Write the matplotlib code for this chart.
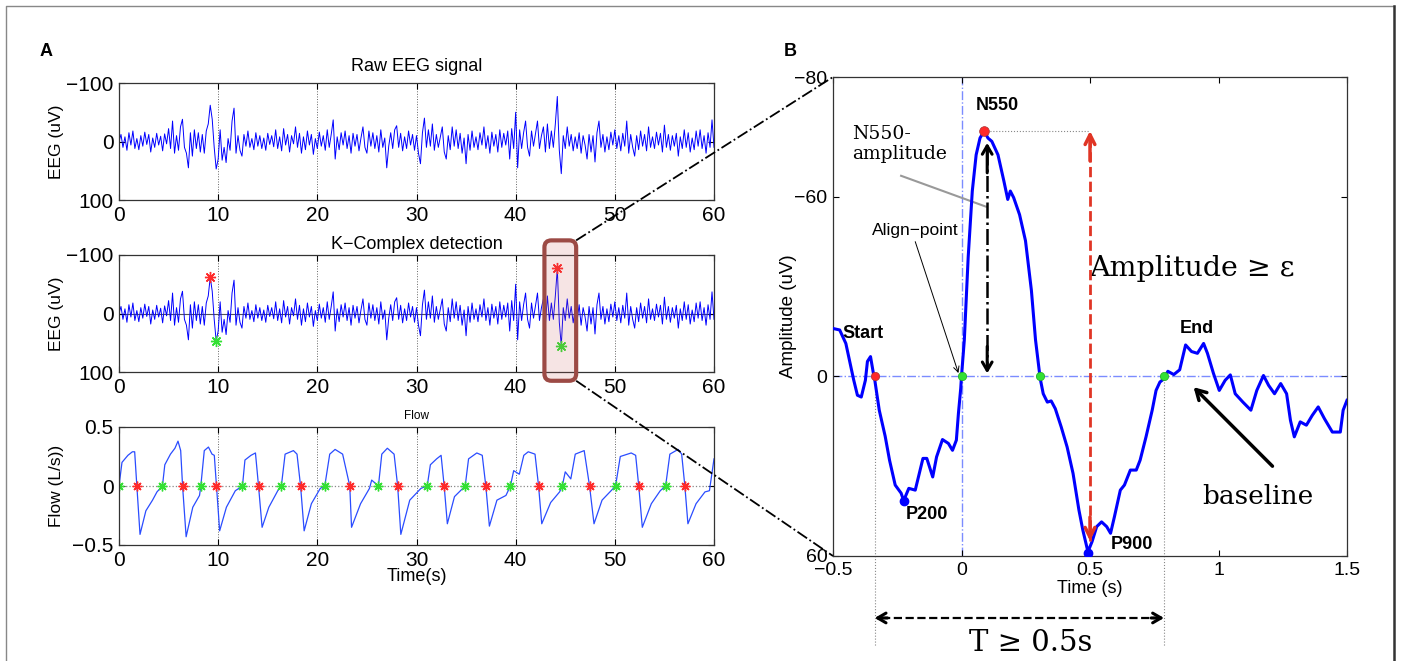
import numpy as np
import matplotlib.pyplot as plt
from matplotlib.patches import FancyBboxPatch
from matplotlib.lines import Line2D
from matplotlib.transforms import IdentityTransform

plt.rcParams['font.family'] = ['Liberation Sans', 'DejaVu Sans']
SERIF = ['DejaVu Serif', 'Liberation Serif']

##################################### data
# raw EEG, one value every 0.2 s, 0..60 s (uV, negative = up)
EEG_DT = 0.2
eeg_uv = [
    0, -12, 10, -8, 15, -15, 6, -18, 12, -5,
    14, -10, 8, -16, 5, -12, 18, -6, 10, -14,
    6, -9, 16, -13, 4, -22, 12, -35, 20, -10,
    15, -25, -38, 10, 20, 45, -15, 25, -20, 12,
    -15, 18, -12, 20, -18, -30, -62, -38, 10, 47,
    30, -20, 32, 10, 36, -5, 15, -35, -57, 20,
    -10, 15, 25, -12, 8, -18, 10, -5, 14, -15,
    8, -10, 12, -6, 15, -14, 5, -10, 9, -20,
    12, -8, 16, -22, 6, -12, 18, -10, 4, -25,
    10, -14, 20, -8, 14, -18, 6, -12, 22, -5,
    12, -16, 8, -10, 15, -20, 10, -12, -37, 30,
    -8, 14, -15, 6, -18, 12, -10, 20, -14, 8,
    -12, 16, -6, -25, 10, 20, -18, 8, -15, 12,
    -10, 18, -20, 10, -6, 45, 8, -15, 12, -20,
    -27, 10, -14, 16, -8, 12, -18, 6, -12, 15,
    -10, 20, 38, -15, -40, 10, -20, 8, -30, 15,
    -12, 10, -8, -25, 18, 30, -10, 14, -25, 8,
    -20, 12, -14, 20, -6, 38, -12, 15, -18, 10,
    -8, 14, -15, 6, -25, 12, -10, 20, -16, 8,
    -12, 18, -20, 10, -14, 6, -18, 30, -22, 12,
    -50, 45, -20, 12, -15, -35, 10, 25, -18, 8,
    -14, -35, 12, -10, -25, 18, -30, 12, -18, 10,
    -30, -77, 15, 55, -10, 12, -25, 8, -12, 16,
    -8, 12, -15, 20, -10, 6, 30, -12, 18, -10,
    35, -15, -35, 10, -12, 18, -8, 14, -16, 6,
    -20, 12, -10, 16, -14, 8, -35, 20, -12, 10,
    25, -10, 14, -18, 8, -12, 16, -25, 10, -8,
    12, -16, 6, -14, 18, -28, 10, -12, 15, -10,
    8, -14, 25, -8, 12, -20, 10, -15, 18, -6,
    14, -18, 8, -20, 12, -10, 20, -15, 10, -37,
    10,
]
eeg_t = np.arange(len(eeg_uv)) * EEG_DT

# detected K-complexes (negative peak / positive peak)
kc_neg_t = [9.2, 44.2]
kc_neg_uv = [-62, -77]
kc_pos_t = [9.8, 44.6]
kc_pos_uv = [47, 55]
kc_box_t = [42.9, 46.1]

# respiratory flow (L/s)
flow_t = [0.00, 0.30, 0.90, 1.35, 1.58, 1.80, 2.12, 2.71, 3.38, 3.83, 4.38,
          4.62, 5.19, 5.64, 5.95, 6.22, 6.41, 6.77, 7.44, 8.12, 8.25,
          8.60, 9.02, 9.38, 9.61, 9.83, 10.15, 10.83, 11.73, 12.45,
          12.70, 13.31, 13.76, 14.07, 14.43, 15.11, 16.01, 16.37,
          16.75, 17.59, 17.95, 18.31, 18.67, 19.40, 20.30, 20.75,
          21.25, 21.79, 22.55, 23.27, 23.45, 24.36, 25.26, 25.48, 26.16,
          26.50, 27.06, 27.74, 28.10, 28.42, 29.32, 30.45, 31.08,
          31.40, 32.03, 32.48, 32.79, 33.11, 33.83, 34.91,
          35.25, 36.08, 36.63, 36.99, 37.35, 38.11, 39.02, 39.47,
          39.80, 40.37, 40.82, 41.27, 41.95, 42.31, 42.63, 43.53, 44.43, 44.70,
          45.00, 45.56, 46.01, 46.91, 47.45, 47.90, 48.71, 49.62, 50.07,
          50.55, 51.65, 52.10, 52.41, 52.77, 53.68, 54.58, 55.12,
          55.55, 56.38, 56.74, 57.06, 57.37, 58.19, 59.09, 59.54, 60.00]
flow_v = [0.00, 0.20, 0.26, 0.29, 0.29, 0.00, -0.41, -0.21, -0.12, -0.05, 0.00,
          0.18, 0.27, 0.32, 0.38, 0.30, 0.00, -0.43, -0.18, -0.08, 0.00,
          0.30, 0.33, 0.27, 0.26, 0.00, -0.38, -0.18, -0.04, 0.00,
          0.22, 0.26, 0.28, 0.00, -0.35, -0.18, -0.04, 0.00,
          0.27, 0.30, 0.27, 0.00, -0.38, -0.15, -0.02, 0.00,
          0.27, 0.31, 0.27, 0.00, -0.35, -0.15, -0.02, 0.05, 0.00,
          0.27, 0.32, 0.27, 0.00, -0.41, -0.12, -0.02, 0.00,
          0.18, 0.23, 0.26, 0.00, -0.32, -0.09, 0.00,
          0.23, 0.28, 0.26, 0.00, -0.34, -0.12, -0.08, 0.00,
          0.13, 0.10, 0.26, 0.29, 0.27, 0.00, -0.32, -0.14, -0.05, 0.00,
          0.12, 0.06, 0.27, 0.30, 0.00, -0.32, -0.12, -0.04, 0.00,
          0.25, 0.28, 0.26, 0.00, -0.35, -0.15, -0.04, 0.00,
          0.27, 0.31, 0.27, 0.00, -0.32, -0.15, -0.05, -0.04, 0.23]
insp_t = [0.0, 4.38, 8.25, 12.45, 16.37, 20.75, 26.16, 31.08, 34.91, 39.47, 44.70, 50.07, 55.12]
exp_t = [1.80, 6.41, 9.83, 14.07, 18.31, 23.27, 28.10, 32.79, 36.99, 42.31, 47.45, 52.41, 57.06]

# zoomed K-complex (panel B)
erp_t = [-0.500, -0.474, -0.450, -0.435, -0.420, -0.405, -0.390, -0.374, -0.366, -0.354,
         -0.343, -0.338, -0.320, -0.297, -0.280, -0.258, -0.235, -0.225, -0.205, -0.180,
         -0.150, -0.135, -0.112, -0.097, -0.074, -0.051, -0.035, -0.020, -0.012, -0.003,
         0.000, 0.011, 0.026, 0.042, 0.057, 0.072, 0.088, 0.103, 0.118, 0.142,
         0.165, 0.180, 0.190, 0.203, 0.226, 0.249, 0.272, 0.288, 0.306, 0.318,
         0.334, 0.349, 0.365, 0.388, 0.411, 0.434, 0.457, 0.472, 0.492, 0.508,
         0.526, 0.545, 0.565, 0.580, 0.595, 0.618, 0.634, 0.657, 0.680, 0.695,
         0.718, 0.742, 0.757, 0.772, 0.788, 0.803, 0.826, 0.849, 0.872, 0.895,
         0.918, 0.942, 0.957, 0.980, 1.003, 1.026, 1.046, 1.065, 1.095, 1.126,
         1.149, 1.175, 1.195, 1.218, 1.242, 1.265, 1.280, 1.295, 1.318, 1.342,
         1.365, 1.388, 1.412, 1.443, 1.474, 1.485, 1.500]
erp_uv = [-16, -15.5, -11, -5, 1, 6.3, 6.9, 1.3, -5, -6.6,
          -1.1, 0.9, 11.3, 20, 28, 36.3, 39, 41.5, 37.4, 38,
          27.4, 27.4, 33.6, 26.9, 21.1, 22.4, 24.7, 21.3, 12.4, 4,
          0, -12.2, -39.8, -61.9, -74, -79.6, -82, -79.6, -78.5, -74,
          -65.2, -59.1, -61.9, -59.7, -54, -45.3, -28.7, -12.2, 0.6, 5.8,
          8.6, 8.2, 10.8, 16.9, 23.6, 32.4, 44.7, 51.3, 58.6, 55.2,
          50.2, 48.6, 50.2, 52.4, 46.9, 38, 36.3, 31.3, 31.3, 28,
          20.2, 11.3, 4.7, 1.9, 0.8, -1.7, -0.6, -2.2, -10.5, -8.3,
          -7.7, -11, -7.7, -1.1, 4.7, 1.3, -0.5, 5.8, 8.6, 11.3,
          4.7, -0.3, 3, 5.8, 2.4, 5.8, 14.7, 20.2, 15.2, 16.3,
          13, 10.2, 14.1, 18.6, 18.6, 11.3, 8]
start_pt = (-0.338, 0)
end_pt = (0.788, 0)
zero_pts_t = [0.0, 0.306, 0.788]
n550_pt = (0.088, -82)
p200_pt = (-0.225, 41.5)
p900_pt = (0.492, 59)
#####################################

BLUE = '#0000ff'
RED = '#ff2a2a'
GREEN = '#33e033'
LBLUE = '#7b8cff'


def matlab_axes(ax, labelsize=15):
    ax.tick_params(direction='in', top=True, right=True, length=4, width=0.8,
                   labelsize=labelsize, pad=4)
    for s in ax.spines.values():
        s.set_linewidth(0.9)
        s.set_color('#333333')


fig = plt.figure(figsize=(14.01, 6.61), dpi=100)
W, H = 1401, 661

ax1 = fig.add_axes([119 / W, 1 - 200 / H, 595 / W, 117 / H])
ax2 = fig.add_axes([119 / W, 1 - 372 / H, 595 / W, 117 / H])
ax3 = fig.add_axes([119 / W, 1 - 545 / H, 595 / W, 118 / H])
axB = fig.add_axes([833 / W, 1 - 556 / H, 514 / W, 479 / H])

xt = list(range(0, 61, 10))

##################################### panel A
for ax in (ax1, ax2):
    ax.plot(eeg_t, eeg_uv, color=BLUE, lw=0.7)
    ax.set_xlim(0, 60)
    ax.set_ylim(100, -100)
    ax.set_yticks([-100, 0, 100])
    ax.set_xticks(xt)
    ax.xaxis.grid(True, ls=':', color='#666666', lw=0.7)
    ax.set_ylabel('EEG (uV)', fontsize=12.5)
    ax.yaxis.set_label_coords(-0.093, 0.5)
    matlab_axes(ax)

ax1.set_title('Raw EEG signal', fontsize=13, pad=9)
ax2.set_title('K\u2212Complex detection', fontsize=13, pad=4)
ax2.axhline(0, color='#555555', lw=0.8, zorder=1)
ax2.plot(kc_neg_t, kc_neg_uv, ls='none', marker=(8, 2, 0), color=RED, ms=8, mew=1)
ax2.plot(kc_pos_t, kc_pos_uv, ls='none', marker=(8, 2, 0), color=GREEN, ms=8, mew=1)

ax3.plot(flow_t, flow_v, color='#2a4cff', lw=0.9)
ax3.axhline(0, color='#888888', ls=':', lw=0.9, zorder=1)
ax3.plot(insp_t, np.zeros(len(insp_t)), ls='none', marker=(8, 2, 0), color=GREEN, ms=7, mew=1)
ax3.plot(exp_t, np.zeros(len(exp_t)), ls='none', marker=(8, 2, 0), color=RED, ms=7, mew=1)
ax3.set_xlim(0, 60)
ax3.set_ylim(-0.5, 0.5)
ax3.set_yticks([-0.5, 0, 0.5])
ax3.set_yticklabels(['\u22120.5', '0', '0.5'])
ax3.set_xticks(xt)
ax3.xaxis.grid(True, ls=':', color='#666666', lw=0.7)
ax3.set_title('Flow', fontsize=8.5, pad=6)
ax3.set_xlabel('Time(s)', fontsize=13, labelpad=-1)
ax3.set_ylabel('Flow (L/s))', fontsize=12.5)
ax3.yaxis.set_label_coords(-0.093, 0.5)
matlab_axes(ax3)

##################################### panel B
axB.axhline(0, color=LBLUE, ls='-.', lw=1, zorder=1)
axB.axvline(0, color=LBLUE, ls='-.', lw=1, zorder=1)
axB.plot(erp_t, erp_uv, color=BLUE, lw=2.2, zorder=3)
axB.set_xlim(-0.5, 1.5)
axB.set_ylim(60, -100)
axB.set_xticks([-0.5, 0, 0.5, 1, 1.5])
axB.set_xticklabels(['\u22120.5', '0', '0.5', '1', '1.5'])
axB.set_yticks([-100, -60, 0, 60])
axB.set_yticklabels(['\u221280', '\u221260', '0', '60'])
axB.set_xlabel('Time (s)', fontsize=13, labelpad=1)
axB.set_ylabel('Amplitude (uV)', fontsize=13.5)
axB.yaxis.set_label_coords(-0.07, 0.5)
matlab_axes(axB, labelsize=14)

# guide lines
for tx in (start_pt[0], end_pt[0]):
    axB.plot([tx, tx], [0, 90], ls=':', color='#888888', lw=0.8, clip_on=False)
axB.plot([n550_pt[0], 0.5], [n550_pt[1], n550_pt[1]], ls=':', color='#888888', lw=0.8)

# markers
axB.plot(*start_pt, 'o', color=RED, ms=6, mec='#aa3333', mew=0.5, zorder=5)
axB.plot(zero_pts_t, [0, 0, 0], 'o', ls='none', color=GREEN, ms=6, mec='#22aa22', mew=0.5, zorder=5)
axB.plot(*n550_pt, 'o', color=RED, ms=7, mec='#aa3333', mew=0.5, zorder=5)
axB.plot(*p200_pt, 'o', color=BLUE, ms=6, zorder=5)
axB.plot(*p900_pt, 'o', color=BLUE, ms=6, zorder=5)

# red amplitude arrow
axB.plot([0.5, 0.5], [-80, 55], ls='--', color='#e03525', lw=2, zorder=4)
for y0, y1 in ((-72, -82), (47, 55)):
    axB.annotate('', xy=(0.5, y1), xytext=(0.5, y0),
                 arrowprops=dict(arrowstyle='->,head_length=0.7,head_width=0.35',
                                 color='#e03525', lw=2.5, shrinkA=0, shrinkB=0), zorder=4)

# black N550 amplitude arrow
axB.plot([0.1, 0.1], [-76, -2], ls='-.', color='black', lw=1.8, zorder=4)
for y0, y1 in ((-68, -78), (-10, -1)):
    axB.annotate('', xy=(0.1, y1), xytext=(0.1, y0),
                 arrowprops=dict(arrowstyle='->,head_length=0.6,head_width=0.35',
                                 color='black', lw=2.2, shrinkA=0, shrinkB=0), zorder=4)

# labels
bold = dict(fontsize=13, fontweight='bold', ha='center', va='center')
axB.text(0.14, -90.5, 'N550', **bold)
axB.text(-0.385, -14.4, 'Start', **bold)
axB.text(0.915, -16, 'End', **bold)
axB.text(-0.135, 46.3, 'P200', **bold)
axB.text(0.665, 56.3, 'P900', **bold)

axB.text(-0.425, -77.5, 'N550-\namplitude', family=SERIF, fontsize=13.5,
         ha='left', va='center', linespacing=1.15)
axB.plot([-0.235, 0.095], [-67, -56.7], color='#999999', lw=1.5)

axB.text(-0.178, -48.6, 'Align\u2212point', fontsize=12.5, ha='center', va='center')
axB.annotate('', xy=(-0.012, -1.1), xytext=(-0.18, -45),
             arrowprops=dict(arrowstyle='->', color='black', lw=0.7, shrinkA=0, shrinkB=0))

axB.text(0.895, -36, 'Amplitude \u2265 \u03b5', family=SERIF, fontsize=20.5,
         ha='center', va='center')
axB.text(1.154, 40, 'baseline', family=SERIF, fontsize=19, ha='center', va='center')
axB.annotate('', xy=(0.903, 3.6), xytext=(1.21, 30),
             arrowprops=dict(arrowstyle='->,head_length=0.7,head_width=0.4',
                             color='black', lw=2.5, shrinkA=0, shrinkB=0))

# duration arrow below the axes
axB.plot([start_pt[0] + 0.03, end_pt[0] - 0.03], [80.7, 80.7], ls='--', color='black',
         lw=1.6, clip_on=False)
for x0, x1 in ((start_pt[0] + 0.05, start_pt[0]), (end_pt[0] - 0.05, end_pt[0])):
    axB.annotate('', xy=(x1, 80.7), xytext=(x0, 80.7), annotation_clip=False,
                 arrowprops=dict(arrowstyle='->,head_length=0.6,head_width=0.35',
                                 color='black', lw=2.2, shrinkA=0, shrinkB=0))
axB.text(0.27, 89, 'T \u2265 0.5s', family=SERIF, fontsize=21, ha='center',
         va='center', clip_on=False)

##################################### zoom box and connecting lines
bl = ax2.transData.transform((kc_box_t[0], 115))
tr = ax2.transData.transform((kc_box_t[1], -125))
box = FancyBboxPatch(bl, tr[0] - bl[0], tr[1] - bl[1],
                     boxstyle='round,pad=0,rounding_size=7',
                     transform=IdentityTransform(), fc=(0.78, 0.35, 0.35, 0.16),
                     ec='#9c4a45', lw=3, zorder=10)
fig.add_artist(box)

b_top = axB.transAxes.transform((0, 1))
b_bot = axB.transAxes.transform((0, 0))
for (x0, y0), (x1, y1) in (((tr[0], tr[1]), b_top), ((tr[0], bl[1]), b_bot)):
    fig.add_artist(Line2D([x0, x1], [y0, y1], transform=IdentityTransform(),
                          ls='-.', color='black', lw=1.3, zorder=9))

##################################### frame and panel letters
fig.add_artist(Line2D([5.5, 5.5, 1394], [-5, 655, 655], transform=IdentityTransform(),
                      color='#888888', lw=1))
fig.add_artist(Line2D([1394, 1394], [-5, 655], transform=IdentityTransform(),
                      color='#333333', lw=1.8))
fig.text(46 / W, 1 - 52 / H, 'A', fontsize=13, fontweight='bold', ha='center', va='center')
fig.text(790 / W, 1 - 52 / H, 'B', fontsize=13, fontweight='bold', ha='center', va='center')

fig.savefig('out.png', dpi=100)
